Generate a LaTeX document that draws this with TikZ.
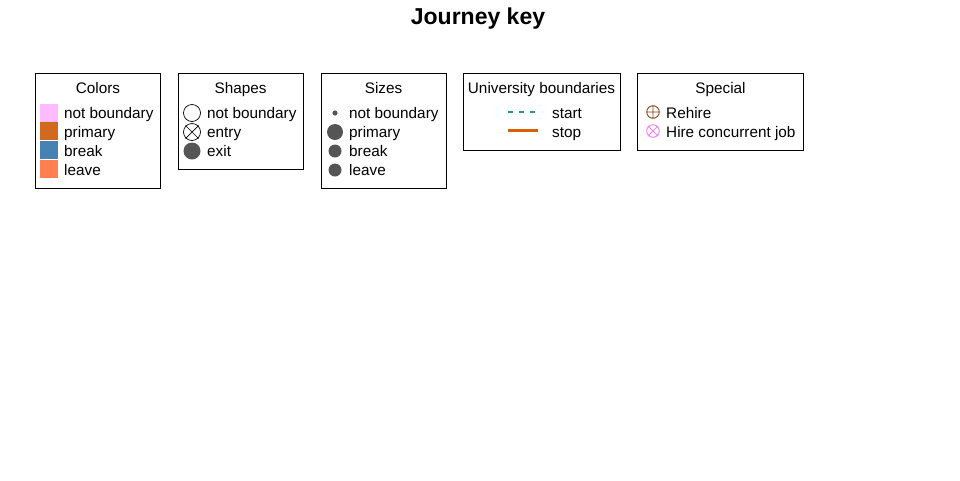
\documentclass[tikz,border=0pt]{standalone}
\usepackage{fontspec}
\setmainfont{Liberation Sans}
\definecolor{cpink}{HTML}{FFBBFF}
\definecolor{cprim}{HTML}{D2691E}
\definecolor{cbreak}{HTML}{4682B4}
\definecolor{cleave}{HTML}{FF7F50}
\definecolor{cgray}{HTML}{555555}
\definecolor{cgreen}{HTML}{1B9E77}
\definecolor{corange}{HTML}{D95F02}
\definecolor{cbrown}{HTML}{8B4513}
\definecolor{cviolet}{HTML}{EE82EE}
\tikzset{
  legbox/.style={draw=black, line width=0.8pt, fill=none},
  legtitle/.style={font=\fontsize{15.3}{18}\selectfont, inner sep=0pt, text height=11pt, text depth=3pt},
  legtext/.style={font=\fontsize{15.3}{18}\selectfont, anchor=west, inner sep=0pt, text height=11pt, text depth=3pt},
  swatch/.style={minimum width=18pt, minimum height=18pt, inner sep=0pt, draw=none},
}
\begin{document}
\begin{tikzpicture}[x=1pt,y=-1pt]
\useasboundingbox (0,0) rectangle (960,480);
% title
\node[font=\fontsize{23}{26}\selectfont\bfseries, inner sep=0pt] (title) at (478,19) {Journey key};
% boxes
\draw[legbox] (35.5,73.5) rectangle (160.5,188.5);
\draw[legbox] (178.5,73.5) rectangle (303.5,169.5);
\draw[legbox] (321.5,73.5) rectangle (446.5,188.5);
\draw[legbox] (463.5,73.5) rectangle (620.5,150.5);
\draw[legbox] (637.5,73.5) rectangle (803.5,150.5);
% Colors
\node[legtitle] (tcol) at (98,89) {Colors};
\node[swatch, fill=cpink] (s1) at (49,112.5) {};
\node[swatch, fill=cprim] (s2) at (49,131) {};
\node[swatch, fill=cbreak] (s3) at (49,150) {};
\node[swatch, fill=cleave] (s4) at (49,169) {};
\node[legtext] (c1) at (64,114) {not boundary};
\node[legtext] (c2) at (64,133) {primary};
\node[legtext] (c3) at (64,152) {break};
\node[legtext] (c4) at (64,171) {leave};
% Shapes
\node[legtitle] (tsh) at (240.5,89) {Shapes};
\draw[line width=0.7pt] (192,113) circle (8.5);
\draw[line width=0.7pt] (192,132) circle (8.5);
\draw[line width=0.7pt] (185.5,125.5) -- (198.5,138.5) (185.5,138.5) -- (198.5,125.5);
\fill[cgray] (192,151) circle (8.5);
\node[legtext] (h1) at (207,114) {not boundary};
\node[legtext] (h2) at (207,133) {entry};
\node[legtext] (h3) at (207,152) {exit};
% Sizes
\node[legtitle] (tsz) at (383.5,89) {Sizes};
\fill[cgray] (335,113) circle (2.6);
\fill[cgray] (335,132) circle (8);
\fill[cgray] (335,151) circle (6.5);
\fill[cgray] (335,170) circle (6.5);
\node[legtext] (z1) at (349,114) {not boundary};
\node[legtext] (z2) at (349,133) {primary};
\node[legtext] (z3) at (349,152) {break};
\node[legtext] (z4) at (349,171) {leave};
% University boundaries
\node[legtitle] (tub) at (541.5,89) {University boundaries};
\coordinate (ua) at (508,112);
\coordinate (ub) at (538,112);
\coordinate (uc) at (508,130.5);
\coordinate (ud) at (538,130.5);
\draw[cgreen, line width=2.5pt, dash pattern=on 5pt off 6pt] (ua) -- (ub);
\draw[corange, line width=2.5pt] (uc) -- (ud);
\node[legtext] (u1) at (552,114) {start};
\node[legtext] (u2) at (552,133) {stop};
% Special
\node[legtitle] (tsp) at (720.5,89) {Special};
\draw[cbrown, line width=0.9pt] (653,112) circle (6.3) (646.7,112) -- (659.3,112) (653,105.7) -- (653,118.3);
\draw[cviolet, line width=0.9pt] (653,131) circle (6.3) (648,126) -- (658,136) (648,136) -- (658,126);
\node[legtext] (p1) at (666,114) {Rehire};
\node[legtext] (p2) at (666,133) {Hire concurrent job};
\end{tikzpicture}
\end{document}
